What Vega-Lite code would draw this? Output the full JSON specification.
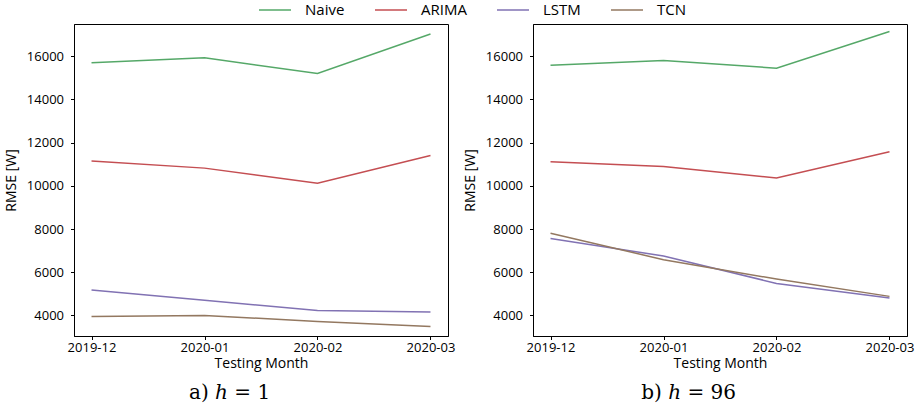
{
  "$schema": "https://vega.github.io/schema/vega-lite/v6.json",
  "padding": {"left": 3, "top": -7, "right": 5, "bottom": 5},
  "data": {"values": [
    {"panel": "a", "month": "2019-12", "model": "Naive", "rmse": 15700},
    {"panel": "a", "month": "2020-01", "model": "Naive", "rmse": 15930},
    {"panel": "a", "month": "2020-02", "model": "Naive", "rmse": 15200},
    {"panel": "a", "month": "2020-03", "model": "Naive", "rmse": 17030},
    {"panel": "a", "month": "2019-12", "model": "ARIMA", "rmse": 11150},
    {"panel": "a", "month": "2020-01", "model": "ARIMA", "rmse": 10820},
    {"panel": "a", "month": "2020-02", "model": "ARIMA", "rmse": 10120},
    {"panel": "a", "month": "2020-03", "model": "ARIMA", "rmse": 11400},
    {"panel": "a", "month": "2019-12", "model": "LSTM", "rmse": 5180},
    {"panel": "a", "month": "2020-01", "model": "LSTM", "rmse": 4700},
    {"panel": "a", "month": "2020-02", "model": "LSTM", "rmse": 4230},
    {"panel": "a", "month": "2020-03", "model": "LSTM", "rmse": 4160},
    {"panel": "a", "month": "2019-12", "model": "TCN", "rmse": 3950},
    {"panel": "a", "month": "2020-01", "model": "TCN", "rmse": 4000},
    {"panel": "a", "month": "2020-02", "model": "TCN", "rmse": 3720},
    {"panel": "a", "month": "2020-03", "model": "TCN", "rmse": 3480},
    {"panel": "b", "month": "2019-12", "model": "Naive", "rmse": 15580},
    {"panel": "b", "month": "2020-01", "model": "Naive", "rmse": 15800},
    {"panel": "b", "month": "2020-02", "model": "Naive", "rmse": 15450},
    {"panel": "b", "month": "2020-03", "model": "Naive", "rmse": 17150},
    {"panel": "b", "month": "2019-12", "model": "ARIMA", "rmse": 11120},
    {"panel": "b", "month": "2020-01", "model": "ARIMA", "rmse": 10900},
    {"panel": "b", "month": "2020-02", "model": "ARIMA", "rmse": 10360},
    {"panel": "b", "month": "2020-03", "model": "ARIMA", "rmse": 11580},
    {"panel": "b", "month": "2019-12", "model": "LSTM", "rmse": 7560},
    {"panel": "b", "month": "2020-01", "model": "LSTM", "rmse": 6750},
    {"panel": "b", "month": "2020-02", "model": "LSTM", "rmse": 5480},
    {"panel": "b", "month": "2020-03", "model": "LSTM", "rmse": 4800},
    {"panel": "b", "month": "2019-12", "model": "TCN", "rmse": 7800},
    {"panel": "b", "month": "2020-01", "model": "TCN", "rmse": 6580},
    {"panel": "b", "month": "2020-02", "model": "TCN", "rmse": 5680},
    {"panel": "b", "month": "2020-03", "model": "TCN", "rmse": 4880}
  ]},
  "config": {
    "font": "Open Sans",
    "view": {"stroke": "#000", "strokeWidth": 1},
    "axis": {"grid": false, "domainColor": "#000", "tickColor": "#000", "labelColor": "#000", "titleColor": "#000", "labelFont": "Open Sans", "titleFont": "Open Sans", "labelFontSize": 13, "titleFontSize": 14, "titleFontWeight": "normal", "tickSize": 3.5},
    "concat": {"spacing": 6}
  },
  "resolve": {"scale": {"color": "shared"}, "legend": {"color": "shared"}},
  "hconcat": [
    {
      "width": 374, "height": 312,
      "transform": [{"filter": "datum.panel === 'a'"}],
      "title": {"text": "a) ℎ = 1", "orient": "bottom", "frame": "bounds", "font": "DejaVu Serif", "fontSize": 20, "fontWeight": "normal", "offset": 12, "color": "#000"},
      "mark": {"type": "line", "strokeWidth": 1.5},
      "encoding": {
        "x": {"field": "month", "type": "ordinal", "sort": ["2019-12", "2020-01", "2020-02", "2020-03"], "scale": {"type": "point", "padding": 0.155}, "axis": {"title": "Testing Month", "labelAngle": 0, "labelPadding": 2, "titlePadding": 2}},
        "y": {"field": "rmse", "type": "quantitative", "scale": {"domain": [3045, 17495], "nice": false, "zero": false}, "axis": {"title": "RMSE [W]", "values": [4000, 6000, 8000, 10000, 12000, 14000, 16000], "format": "d", "labelPadding": 7, "titlePadding": 8}},
        "color": {"field": "model", "type": "nominal", "scale": {"domain": ["Naive", "ARIMA", "LSTM", "TCN"], "range": ["#55a868", "#c44e52", "#8172b3", "#937860"]},
          "legend": {"orient": "none", "direction": "horizontal", "legendX": 184, "legendY": -31, "title": null, "symbolType": "stroke", "symbolSize": 1024, "symbolStrokeWidth": 1.5, "labelFontSize": 15, "labelOffset": 13, "columnPadding": 27, "labelFont": "Open Sans", "labelColor": "#000"}}
      }
    },
    {
      "width": 374, "height": 312,
      "transform": [{"filter": "datum.panel === 'b'"}],
      "title": {"text": "b) ℎ = 96", "orient": "bottom", "frame": "bounds", "font": "DejaVu Serif", "fontSize": 20, "fontWeight": "normal", "offset": 12, "color": "#000"},
      "mark": {"type": "line", "strokeWidth": 1.5},
      "encoding": {
        "x": {"field": "month", "type": "ordinal", "sort": ["2019-12", "2020-01", "2020-02", "2020-03"], "scale": {"type": "point", "padding": 0.155}, "axis": {"title": "Testing Month", "labelAngle": 0, "labelPadding": 2, "titlePadding": 2}},
        "y": {"field": "rmse", "type": "quantitative", "scale": {"domain": [3045, 17495], "nice": false, "zero": false}, "axis": {"title": "RMSE [W]", "values": [4000, 6000, 8000, 10000, 12000, 14000, 16000], "format": "d", "labelPadding": 7, "titlePadding": 8}},
        "color": {"field": "model", "type": "nominal"}
      }
    }
  ]
}
